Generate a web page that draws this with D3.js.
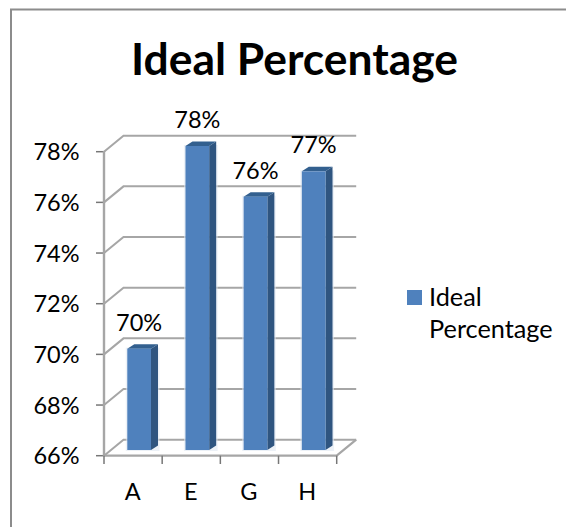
<!DOCTYPE html>
<html><head><meta charset="utf-8">
<script src="https://cdn.jsdelivr.net/npm/d3@7/dist/d3.min.js"></script>
<style>html,body{margin:0;background:#fff}svg{display:block}text{font-family:Lato,"Noto Sans",sans-serif;fill:#000}</style>
</head><body><svg id="c" width="566" height="527"></svg>
<script>
const categories=["A","E","G","H"];
const values=[70,78,76,77];
const seriesName="Ideal Percentage";
const legendLines=["Ideal","Percentage"];
const yTicks=[66,68,70,72,74,76,78];
const svg=d3.select("#c");
const x=d3.scaleBand().domain(categories).range([104,336.7]);
const yAxisS=d3.scaleLinear().domain([66,78]).range([455.7,151.7]);
const dx=19.5,dy=-16;
const grid="#a6a6a6";
// chart border
svg.append("path").attr("d","M11,527V9.5H566").attr("fill","none").attr("stroke","#8c8c8c").attr("stroke-width",2);
// title
svg.append("text").attr("x",294.5).attr("y",75).attr("text-anchor","middle").attr("font-size",44.4).attr("font-weight",700).text(seriesName);
// gridlines
yTicks.forEach(t=>{
 const y=yAxisS(t);
 svg.append("path").attr("d",`M104,${y}L${104+dx},${y+dy}H${336.7+dx}`).attr("fill","none").attr("stroke",grid).attr("stroke-width",2);
 svg.append("line").attr("x1",96).attr("x2",104).attr("y1",y).attr("y2",y).attr("stroke","#777").attr("stroke-width",1.5);
 svg.append("text").attr("x",79.5).attr("y",y+8.5).attr("text-anchor","end").attr("font-size",23.5).text(t+"%");
});
svg.append("line").attr("x1",104).attr("x2",104).attr("y1",151).attr("y2",456).attr("stroke",grid).attr("stroke-width",2.4);
// floor
const fy=yAxisS(66);
svg.append("path").attr("d",`M104,${fy}H336.7L${336.7+dx},${fy+dy}`).attr("fill","none").attr("stroke",grid).attr("stroke-width",2.2);
[...categories.map(c=>x(c)),336.7].forEach(v=>svg.append("line").attr("x1",v).attr("x2",v).attr("y1",fy).attr("y2",464).attr("stroke","#777").attr("stroke-width",1.5));
// bars
const barY=d3.scaleLinear().domain([66,78]).range([450,146]);
const bw=23.7,ox=23.3,sd=7,td=4.5;
categories.forEach((c,i)=>{
 const l=x(c)+ox,t=barY(values[i]),b=barY(66);
 svg.append("rect").attr("x",l-1.5).attr("y",t-1).attr("width",bw+sd+3).attr("height",b-t+2).attr("fill","#dfe7f2").attr("opacity",.6);
 svg.append("path").attr("d",`M${l+bw},${t}L${l+bw+sd},${t-td}V${b-td}L${l+bw},${b}Z`).attr("fill","#2f5580");
 svg.append("path").attr("d",`M${l},${t}L${l+sd},${t-td}H${l+bw+sd}L${l+bw},${t}Z`).attr("fill","#33608f");
 svg.append("rect").attr("x",l).attr("y",t).attr("width",bw).attr("height",b-t).attr("fill","#4f81bd");
 svg.append("text").attr("x",l+bw/2).attr("y",t-18).attr("text-anchor","middle").attr("font-size",23.5).text(values[i]+"%");
 svg.append("text").attr("x",x(c)+x.bandwidth()/2-.5).attr("y",500).attr("text-anchor","middle").attr("font-size",23.5).text(c);
});
// legend
svg.append("rect").attr("x",407).attr("y",290).attr("width",15).attr("height",15).attr("fill","#4f81bd");
legendLines.forEach((s,i)=>svg.append("text").attr("x",429).attr("y",306+i*32).attr("font-size",25.3).text(s));
</script></body></html>
